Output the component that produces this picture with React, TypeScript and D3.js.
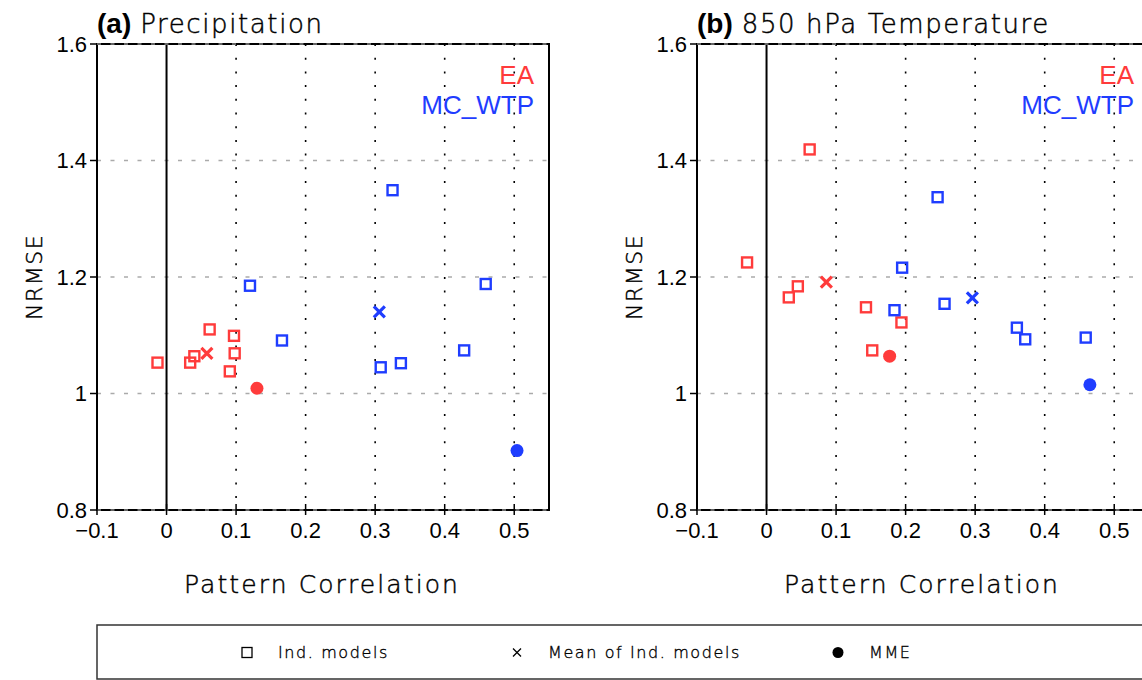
import React from 'react';
import * as d3 from 'd3';

// panel (a) Precipitation
const precipEaModels: [number, number][] = [
  [-0.013, 1.053], [0.034, 1.053], [0.04, 1.064], [0.062, 1.11],
  [0.097, 1.099], [0.098, 1.069], [0.091, 1.038],
];
const precipEaMean: [number, number] = [0.058, 1.069];
const precipEaMme: [number, number] = [0.13, 1.009];
const precipMcModels: [number, number][] = [
  [0.12, 1.185], [0.166, 1.091], [0.325, 1.349], [0.308, 1.045],
  [0.337, 1.052], [0.428, 1.074], [0.459, 1.188],
];
const precipMcMean: [number, number] = [0.306, 1.14];
const precipMcMme: [number, number] = [0.504, 0.902];

// panel (b) 850 hPa Temperature
const tempEaModels: [number, number][] = [
  [0.062, 1.419], [-0.028, 1.225], [0.045, 1.184], [0.032, 1.165],
  [0.143, 1.148], [0.194, 1.122], [0.152, 1.074],
];
const tempEaMean: [number, number] = [0.086, 1.191];
const tempEaMme: [number, number] = [0.177, 1.064];
const tempMcModels: [number, number][] = [
  [0.246, 1.337], [0.195, 1.216], [0.184, 1.143], [0.256, 1.154],
  [0.36, 1.113], [0.372, 1.093], [0.459, 1.096],
];
const tempMcMean: [number, number] = [0.296, 1.164];
const tempMcMme: [number, number] = [0.465, 1.015];

const xTicks = [-0.1, 0, 0.1, 0.2, 0.3, 0.4, 0.5];
const yTicks = [0.8, 1, 1.2, 1.4, 1.6];
const regions = ['EA', 'MC_WTP'];
const legendLabels = ['Ind. models', 'Mean of Ind. models', 'MME'];

const RED = '#ff3b3b';
const BLUE = '#1f3dff';
const FONT = 'Liberation Sans, Arial, sans-serif';
const THIN = 'DejaVu Sans, sans-serif';
// thin single-stroke look, darkened a little with an outline
const thinText = { fontFamily: THIN, fontWeight: 200, stroke: '#000', strokeWidth: 0.45 };

type Group = { models: [number, number][]; mean: [number, number]; mme: [number, number]; color: string };

const W = 1142;
const H = 680;

const fmtX = (d: number) => (d === 0 ? '0' : d < 0 ? '\u2212' + String(-d) : String(d));
const fmtY = (d: number) => (d === 1 ? '1' : String(d));

// an "x" drawn as two strokes, centred on 0,0
const crossPath = (s: number) => {
  const p = d3.path();
  p.moveTo(-s, -s); p.lineTo(s, s);
  p.moveTo(-s, s); p.lineTo(s, -s);
  return p.toString();
};

function Panel({ left, label, title, groups }: { left: number; label: string; title: string; groups: Group[] }) {
  const x = d3.scaleLinear().domain([-0.1, 0.55]).range([left, left + 452]);
  const y = d3.scaleLinear().domain([0.8, 1.6]).range([510, 44]);
  const [x0, x1] = x.range();
  const [yb, yt] = y.range();
  return (
    <g>
      <text x={x0} y={33} fontSize={26}>
        <tspan fontWeight={700} fontFamily={FONT} fontSize={28}>{label}</tspan>
        <tspan dx={9} {...thinText} letterSpacing={1.6}>{title}</tspan>
      </text>
      {/* vertical dotted grid */}
      {xTicks.filter(t => t > 0).map(t => (
        <line key={'vx' + t} x1={x(t)} x2={x(t)} y1={yt} y2={yb} stroke="#000" strokeWidth={1.6} strokeDasharray="2 11.7" />
      ))}
      {/* horizontal dashed grid */}
      {yTicks.filter(t => t > 0.8 && t < 1.6).map(t => (
        <line key={'hy' + t} x1={x0} x2={x1} y1={y(t)} y2={y(t)} stroke="#aaa" strokeWidth={1.4} strokeDasharray="4 9.5" />
      ))}
      <line x1={x(0)} x2={x(0)} y1={yt} y2={yb} stroke="#000" strokeWidth={2} />
      <rect x={x0} y={yt} width={x1 - x0} height={yb - yt} fill="none" stroke="#000" strokeWidth={2} />
      {[yt, yb].map(v => (
        <line key={'b' + v} x1={x0} x2={x1} y1={v} y2={v} stroke="#ccc" strokeWidth={1} strokeDasharray="4 9.5" />
      ))}
      {/* ticks */}
      {yTicks.map(t => (
        <g key={'yt' + t}>
          <line x1={x0 - 7} x2={x0} y1={y(t)} y2={y(t)} stroke="#000" strokeWidth={1.5} />
          <text x={x0 - 10} y={y(t)} dy="0.36em" textAnchor="end" fontFamily={FONT} fontSize={22}>{fmtY(t)}</text>
        </g>
      ))}
      {xTicks.map(t => (
        <g key={'xt' + t}>
          <line x1={x(t)} x2={x(t)} y1={yb - 6} y2={yb + 5} stroke="#000" strokeWidth={1.5} />
          <text x={x(t)} y={538} textAnchor="middle" fontFamily={FONT} fontSize={22}>{fmtX(t)}</text>
        </g>
      ))}
      <text transform={`translate(${x0 - 63},${y(1.2)}) rotate(-90)`} textAnchor="middle" dy="0.36em"
        {...thinText} fontSize={22} letterSpacing={1.5}>NRMSE</text>
      <text x={(x0 + x1) / 2 - 1} y={593} textAnchor="middle" {...thinText} fontSize={25} letterSpacing={2.1}>
        Pattern Correlation
      </text>
      <text x={x1 - 15} y={84} textAnchor="end" fontFamily={FONT} fontSize={26} fill={RED}>{regions[0]}</text>
      <text x={x1 - 15} y={114} textAnchor="end" fontFamily={FONT} fontSize={26} fill={BLUE}>{regions[1]}</text>
      {/* markers */}
      {groups.map((g, gi) => (
        <g key={'g' + gi}>
          {g.models.map((p, i) => (
            <rect key={i} x={x(p[0]) - 5} y={y(p[1]) - 5} width={10} height={10} fill="none" stroke={g.color} strokeWidth={2.4} />
          ))}
          <path d={crossPath(5.5)} transform={`translate(${x(g.mean[0])},${y(g.mean[1])})`} fill="none" stroke={g.color} strokeWidth={3.2} />
          <circle cx={x(g.mme[0])} cy={y(g.mme[1])} r={6.5} fill={g.color} />
        </g>
      ))}
    </g>
  );
}

export default function App() {
  const legendY = 652.5;
  const legendX = d3.scaleOrdinal<string, number>().domain(legendLabels).range([247, 517, 838]);
  return (
    <svg width={W} height={H} style={{ position: 'absolute', left: 0, top: 0, background: '#fff' }}>
      <Panel left={97} label="(a)" title="Precipitation" groups={[
        { models: precipEaModels, mean: precipEaMean, mme: precipEaMme, color: RED },
        { models: precipMcModels, mean: precipMcMean, mme: precipMcMme, color: BLUE },
      ]} />
      <Panel left={697} label="(b)" title="850 hPa Temperature" groups={[
        { models: tempEaModels, mean: tempEaMean, mme: tempEaMme, color: RED },
        { models: tempMcModels, mean: tempMcMean, mme: tempMcMme, color: BLUE },
      ]} />
      <rect x={97} y={625} width={1100} height={54} fill="none" stroke="#333" strokeWidth={1.5} />
      <rect x={legendX(legendLabels[0]) - 5} y={legendY - 5} width={10} height={10} fill="none" stroke="#000" strokeWidth={1.3} />
      <path d={crossPath(4)} transform={`translate(${legendX(legendLabels[1])},${legendY})`} fill="none" stroke="#000" strokeWidth={1.3} />
      <circle cx={legendX(legendLabels[2])} cy={legendY} r={5.5} fill="#000" />
      {legendLabels.map(l => (
        <text key={l} x={legendX(l) + 31} y={legendY} dy="0.36em" {...thinText} strokeWidth={0.35} fontSize={16} letterSpacing={1.6}>{l}</text>
      ))}
    </svg>
  );
}
